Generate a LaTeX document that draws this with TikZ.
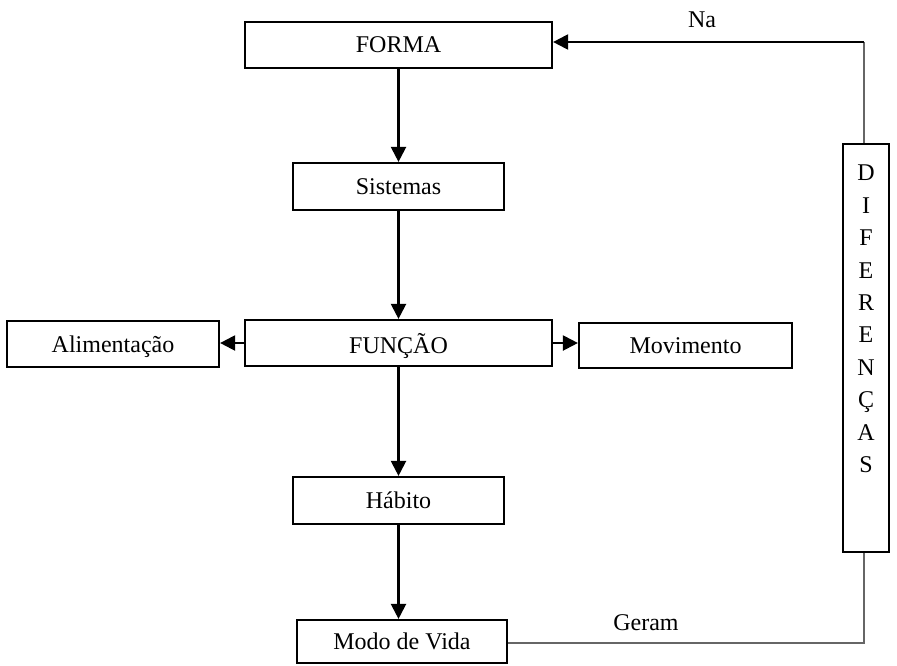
\documentclass[tikz,border=0pt]{standalone}
\usepackage{fontspec}
\setmainfont{Liberation Serif}
\usetikzlibrary{arrows.meta}

\begin{document}
\begin{tikzpicture}[x=0.5pt, y=-0.5pt, >={Triangle[length=7.5pt,width=7.5pt]},
    caixa/.style={draw, line width=1.1pt, inner sep=0pt, text depth=-1.5pt, font=\fontsize{12}{14}\selectfont},
    seta/.style={->, line width=1.1pt},
    fio/.style={line width=0.6pt, black!60},
    rotulo/.style={font=\fontsize{12}{14}\selectfont}]
    \useasboundingbox (0,0) rectangle (897,665);
    % caixas
    \node[caixa, minimum width=153.5pt, minimum height=23pt] (forma) at (398.5,45) {FORMA};
    \node[caixa, minimum width=105.5pt, minimum height=23.5pt] (sistemas) at (398.5,186.5) {Sistemas};
    \node[caixa, minimum width=153.5pt, minimum height=23pt] (funcao) at (398.5,343) {FUNÇÃO};
    \node[caixa, minimum width=106pt, minimum height=23pt] (alim) at (113,344) {Alimentação};
    \node[caixa, minimum width=106.5pt, minimum height=22.5pt] (movim) at (685.5,345.5) {Movimento};
    \node[caixa, minimum width=105.5pt, minimum height=23.5pt] (habito) at (398.5,500.5) {Hábito};
    \node[caixa, minimum width=105pt, minimum height=21.5pt] (modo) at (402,641.5) {Modo de Vida};
    \node[caixa, minimum width=23pt, minimum height=204pt] (dif) at (866,348) {};
    \node[rotulo, align=center, font=\fontsize{12}{16.2}\selectfont] (letras) at (866,319)
        {D\\I\\F\\E\\R\\E\\N\\Ç\\A\\S};
    % setas
    \draw[seta] (forma.south) -- (sistemas.north);
    \draw[seta] (sistemas.south) -- (funcao.north);
    \draw[seta] (funcao.west) -- (funcao.west -| alim.east);
    \draw[seta] (funcao.east) -- (funcao.east -| movim.west);
    \draw[seta] (funcao.south) -- (habito.north);
    \draw[seta] (habito.south) -- (habito.south |- modo.north);
    % retorno
    \coordinate (baixo) at (864,643);
    \coordinate (cima) at (864,42);
    \draw[fio] (modo.east |- baixo) -- (baixo) -- (baixo |- dif.south);
    \draw[fio] (cima |- dif.north) -- (cima);
    \draw[seta] (cima) -- (forma.east |- cima);
    \node[rotulo] (na) at (702,20) {Na};
    \node[rotulo] (geram) at (646,623) {Geram};
\end{tikzpicture}
\end{document}
